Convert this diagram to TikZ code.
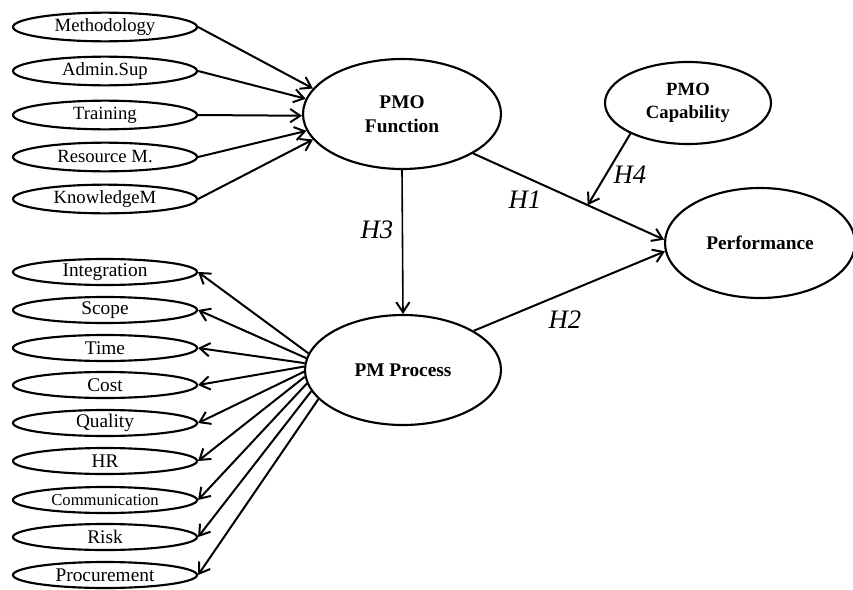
\documentclass[tikz,border=0pt]{standalone}
\usepackage{fontspec}
\setmainfont{Liberation Serif}
\usetikzlibrary{arrows.meta,shapes.geometric}
\begin{document}
\begin{tikzpicture}[x=0.75pt,y=-0.75pt,
  baseell/.style={draw, ellipse, line width=1.6pt, inner sep=0pt},
  topell/.style={baseell, minimum width=138pt, minimum height=21.5pt, font=\fontsize{14}{16}\selectfont},
  botell/.style={baseell, minimum width=138pt, minimum height=19.5pt, font=\fontsize{14.5}{16}\selectfont},
  bigell/.style={baseell, align=center, font=\fontsize{14.5}{18}\selectfont\bfseries},
  hlab/.style={font=\fontsize{20}{24}\selectfont\itshape, inner sep=0pt},
  arr/.style={line width=1.5pt, -{Straight Barb[length=7.5pt,width=10pt,line width=1.5pt]}}
]
\useasboundingbox (0,0) rectangle (853,589);

% top-left indicators
\node[topell] (meth) at (105,27) {Methodology};
\node[topell] (adm) at (105,71) {Admin.Sup};
\node[topell] (trn) at (105,115) {Training};
\node[topell] (res) at (105,157) {Resource M.};
\node[topell] (kno) at (105,199) {KnowledgeM};

% bottom-left indicators
\node[botell] (int) at (105,272) {Integration};
\node[botell] (sco) at (105,310) {Scope};
\node[botell] (tim) at (105,348) {Time};
\node[botell] (cst) at (105,385) {Cost};
\node[botell] (qua) at (105,423) {Quality};
\node[botell] (hr) at (105,461) {HR};
\node[botell, font=\fontsize{12.5}{14}\selectfont] (com) at (105,500) {Communication};
\node[botell] (rsk) at (105,537) {Risk};
\node[botell] (pro) at (105,575) {Procurement};

% constructs
\node[bigell, minimum width=148.5pt, minimum height=82.5pt] (pmof) at (402,114) {PMO\\Function};
\node[bigell, minimum width=147pt, minimum height=82.5pt] (pmp) at (403,370) {PM Process};
\node[bigell, minimum width=124.5pt, minimum height=61.5pt, font=\fontsize{14}{17}\selectfont\bfseries] (cap) at (688,103) {PMO\\Capability};
\node[bigell, minimum width=142.5pt, minimum height=82.5pt] (perf) at (760,243) {Performance};

% formative arrows
\draw[arr] (meth.east) -- (pmof.164);
\draw[arr] (adm.east) -- (pmof.171);
\draw[arr] (trn.east) -- (pmof.181.5);
\draw[arr] (res.east) -- (pmof.190);
\draw[arr] (kno.east) -- (pmof.196.5);

% reflective arrows
\draw[arr] (pmp.170) -- (int.east);
\draw[arr] (pmp.173) -- (sco.east);
\draw[arr] (pmp.176) -- (tim.east);
\draw[arr] (pmp.178.5) -- (cst.east);
\draw[arr] (pmp.181.5) -- (qua.east);
\draw[arr] (pmp.184.5) -- (hr.east);
\draw[arr] (pmp.188) -- (com.east);
\draw[arr] (pmp.193.5) -- (rsk.east);
\draw[arr] (pmp.199) -- (pro.east);

% hypotheses
\draw[arr] (pmof.-29.4) -- coordinate[pos=0.6] (h4end) (perf.178);
\draw[arr] (pmp.29) -- (perf.185);
\draw[arr, line width=1.2pt] (pmof.south) -- (pmp.north);
\draw[arr] (cap.208.5) -- (h4end);

\node[hlab] (h1) at (525,200) {H1};
\node[hlab] (h2) at (565,320) {H2};
\node[hlab] (h3) at (377,230) {H3};
\node[hlab] (h4) at (630,175) {H4};
\end{tikzpicture}
\end{document}
